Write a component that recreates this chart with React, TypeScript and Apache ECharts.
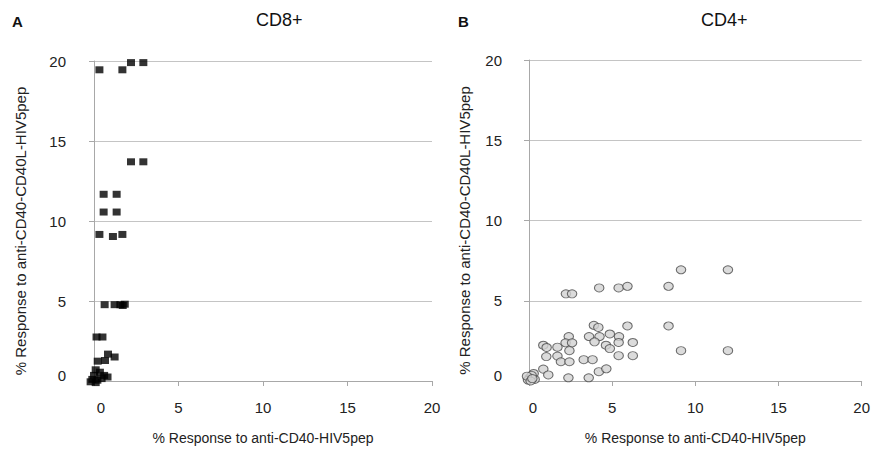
import React, { useEffect, useRef } from "react";
import * as echarts from "echarts";

// CD8+ panel: [x % anti-CD40-HIV5pep, y % anti-CD40-CD40L-HIV5pep]
const cd8X = [
  0.32, 1.68, 2.19, 2.92,
  2.19, 2.92,
  0.57, 1.34, 0.57, 1.34,
  0.32, 1.12, 1.68,
  0.63, 1.22, 1.56, 1.82, 1.7,
  0.15, 0.5,
  0.83, 1.22, 0.22, 0.65,
  0.1, 0.35, 0.0, 0.6, 0.8, -0.1, 0.2, 0.45, -0.2, 0.1,
];
const cd8Y = [
  19.45, 19.45, 19.9, 19.9,
  13.7, 13.7,
  11.67, 11.67, 10.56, 10.56,
  9.16, 9.03, 9.16,
  4.77, 4.77, 4.77, 4.8, 4.72,
  2.75, 2.75,
  1.68, 1.5, 1.24, 1.28,
  0.7, 0.55, 0.35, 0.35, 0.25, 0.1, 0.05, 0.15, -0.05, -0.1,
];

// CD4+ panel
const cd4X = [
  9.14, 11.96, 2.22, 2.59, 4.22, 5.39, 5.92, 8.39,
  8.39, 5.92, 3.9, 4.17,
  2.39, 3.61, 4.24, 4.86, 5.41,
  0.86, 1.06, 1.71, 2.2, 2.59, 3.94, 5.39, 6.24, 4.63, 4.86,
  2.43, 9.14, 11.96, 5.39, 6.24,
  1.04, 1.71, 1.92, 2.43, 3.29, 3.82,
  0.86, 1.16, 2.37, 3.59, 4.2, 4.65,
  0.04, 0.28, -0.06, 0.34, 0.16, -0.12, 0.1, 0.2,
];
const cd4Y = [
  6.93, 6.93, 5.43, 5.43, 5.8, 5.8, 5.9, 5.9,
  3.43, 3.43, 3.47, 3.34,
  2.77, 2.77, 2.77, 2.93, 2.77,
  2.23, 2.09, 2.11, 2.38, 2.38, 2.44, 2.4, 2.4, 2.23, 2.02,
  1.89, 1.89, 1.89, 1.58, 1.58,
  1.52, 1.55, 1.2, 1.2, 1.33, 1.33,
  0.74, 0.38, 0.2, 0.2, 0.58, 0.76,
  0.2, 0.47, 0.06, 0.1, 0.35, 0.3, 0.0, 0.15,
];

const xTicksMax = 20;
const yTicksMax = 20;
const tickStep = 5;
const panelTitles = ["CD8+", "CD4+"];
const panelLetters = ["A", "B"];
const xName = "% Response to anti-CD40-HIV5pep";
const yName = "% Response to anti-CD40-CD40L-HIV5pep";

const FONT = "'Liberation Sans', Arial, sans-serif";

export default function App() {
  const ref = useRef<HTMLDivElement>(null);
  useEffect(() => {
    if (!ref.current) return;
    const chart = echarts.init(ref.current, null, { renderer: "svg" });
    const axisGrey = "#a8a8a8";
    const mkX = (gridIndex: number, zeroPad: number) => ({
      type: "value",
      gridIndex,
      min: 0,
      max: xTicksMax,
      interval: tickStep,
      name: xName,
      nameLocation: "middle",
      nameGap: 50,
      nameTextStyle: { fontSize: 14, color: "#222", fontFamily: FONT },
      axisLine: { lineStyle: { color: axisGrey, width: 1 } },
      axisTick: { show: true, length: 5, lineStyle: { color: axisGrey } },
      axisLabel: {
        fontSize: 15,
        color: "#222",
        margin: 19,
        fontFamily: FONT,
        formatter: (v: number) => (v === 0 ? "{z|0}" : String(v)),
        rich: { z: { fontSize: 15, color: "#222", fontFamily: FONT, padding: [0, 0, 0, zeroPad] } },
      },
      splitLine: { show: false },
    });
    const mkY = (gridIndex: number, gap: number, margin: number) => ({
      type: "value",
      gridIndex,
      min: 0,
      max: yTicksMax,
      interval: tickStep,
      name: yName,
      nameLocation: "middle",
      nameGap: gap,
      nameRotate: 90,
      nameTextStyle: {
        fontSize: 15,
        color: "#222",
        fontFamily: FONT,
        padding: [0, 20, 0, 0],
      },
      axisLine: { show: true, lineStyle: { color: axisGrey, width: 1 } },
      axisTick: { show: true, length: 5, lineStyle: { color: axisGrey } },
      axisLabel: {
        fontSize: 15,
        color: "#222",
        margin,
        fontFamily: FONT,
        formatter: (v: number) => (v === 0 ? "{z|0}" : String(v)),
        rich: { z: { fontSize: 15, color: "#222", fontFamily: FONT, padding: [0, 0, 12, 0] } },
      },
      splitLine: { show: true, lineStyle: { color: "#c4c4c4", width: 1 } },
    });
    const titleStyle = { fontSize: 18, fontWeight: "normal", color: "#111", fontFamily: FONT };
    const letterStyle = { fontSize: 15, fontWeight: "bold", color: "#111", fontFamily: FONT };
    chart.setOption({
      animation: false,
      backgroundColor: "#ffffff",
      title: [
        { text: panelTitles[0], left: 251, top: 6, textStyle: titleStyle },
        { text: panelTitles[1], left: 696, top: 6, textStyle: titleStyle },
        { text: panelLetters[0], left: 7, top: 9, textStyle: letterStyle },
        { text: panelLetters[1], left: 453, top: 9, textStyle: letterStyle },
      ],
      grid: [
        { left: 94, top: 61, width: 338, height: 323 },
        { left: 529, top: 60, width: 341, height: 325 },
      ],
      xAxis: [mkX(0, 14), mkX(1, 8)],
      yAxis: [mkY(0, 66, 28), mkY(1, 57, 27)],
      series: [
        {
          type: "scatter",
          xAxisIndex: 0,
          yAxisIndex: 0,
          clip: false,
          symbol: "rect",
          symbolSize: [8, 7],
          itemStyle: { color: "#000000" },
          data: cd8X.map((x, i) => [x, cd8Y[i]]),
        },
        {
          type: "scatter",
          xAxisIndex: 1,
          yAxisIndex: 1,
          clip: false,
          symbol: "circle",
          symbolSize: [9.5, 8],
          itemStyle: { color: "#d2d2d2", borderColor: "#4a4a4a", borderWidth: 1 },
          data: cd4X.map((x, i) => [x, cd4Y[i]]),
        },
      ],
    });
    return () => chart.dispose();
  }, []);
  return (
    <div
      ref={ref}
      style={{ position: "fixed", left: 0, top: 0, width: 873, height: 450, background: "#fff" }}
    />
  );
}
